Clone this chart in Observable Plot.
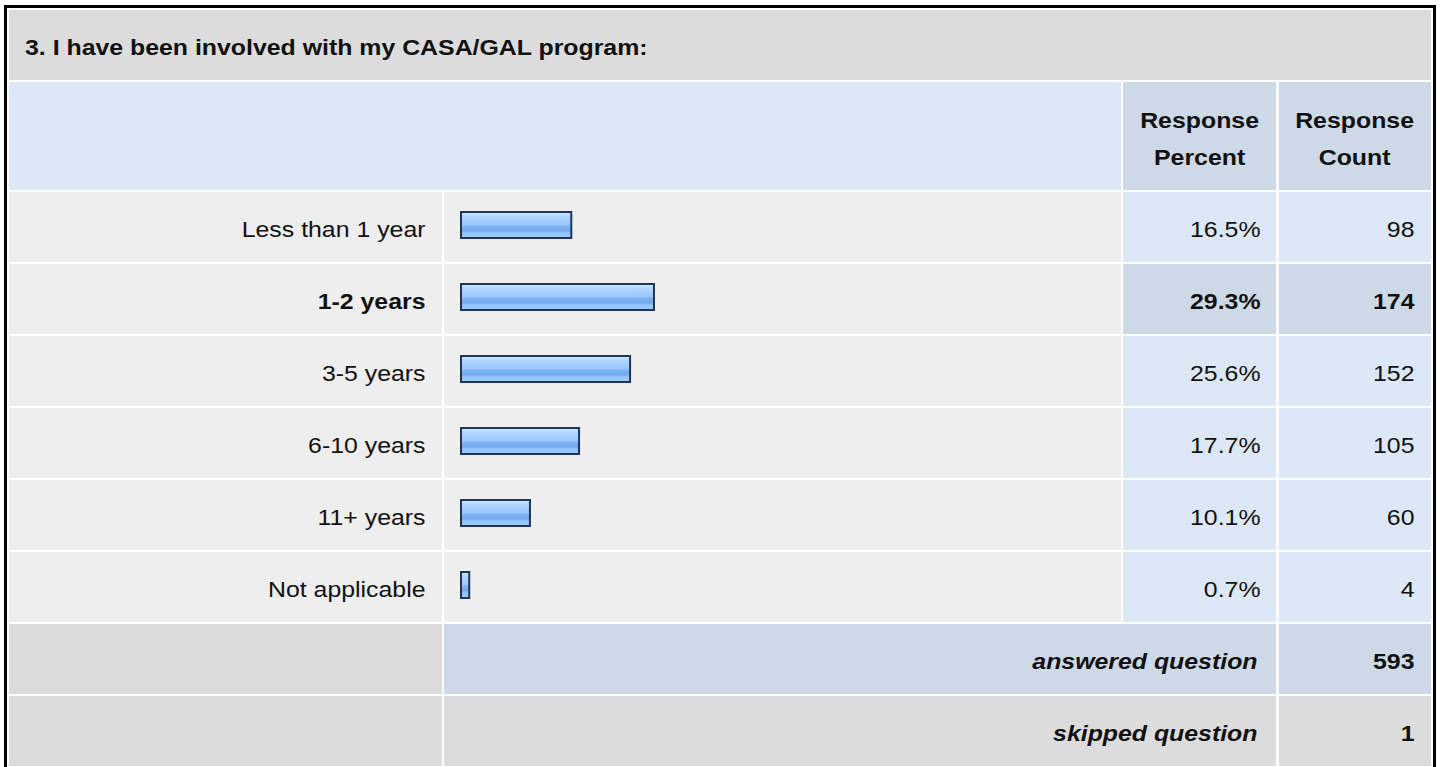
<!DOCTYPE html>
<html>
<head>
<meta charset="utf-8">
<script src="https://cdn.jsdelivr.net/npm/d3@7"></script>
<script src="https://cdn.jsdelivr.net/npm/@observablehq/plot@0.6"></script>
<style>
  body { margin: 0; background: #fff; font-family: "Liberation Sans", Arial, sans-serif; color: #000; }
  #wrap { position: relative; width: 1440px; height: 767px; overflow: hidden; }
  #head { position: relative; height: 190px; }
  .cell { position: absolute; }
  .hdr { font-weight: bold; font-size: 22px; line-height: 37px; text-align: center; color: #111; }
  .sx { display: inline-block; transform: scaleX(1.13); white-space: nowrap; }
  #frame { position: absolute; left: 4px; top: 5px; width: 1432px; height: 800px; border: 3px solid #000; border-bottom: none; box-sizing: border-box; pointer-events: none; }
  #chart svg { display: block; }
</style>
</head>
<body>
<div id="wrap">
  <div id="head">
    <div class="cell" style="left:9px;top:10px;width:1422px;height:70px;background:#dcdcdc"></div>
    <div class="cell" style="left:25px;top:13px;line-height:70px;font-weight:bold;font-size:22px;white-space:nowrap;color:#111"><span class="sx" id="title" style="transform-origin:left center"></span></div>
    <div class="cell" style="left:9px;top:82px;width:1112px;height:108px;background:#dde8f6"></div>
    <div class="cell" style="left:1123px;top:82px;width:153px;height:108px;background:#cdd9e6"></div>
    <div class="cell" style="left:1279px;top:82px;width:152px;height:108px;background:#cdd9e6"></div>
    <div class="cell hdr" style="left:1123px;top:102px;width:153px"><span class="sx" id="hdrPct" style="transform-origin:center"></span></div>
    <div class="cell hdr" style="left:1279px;top:102px;width:152px"><span class="sx" id="hdrCount" style="transform-origin:center"></span></div>
  </div>
  <div id="chart"></div>
  <div id="frame"></div>
</div>
<script>
// ---- data ----
const title = "3. I have been involved with my CASA/GAL program:";
const headerPercent = ["Response", "Percent"];
const headerCount = ["Response", "Count"];
const categories = ["Less than 1 year", "1-2 years", "3-5 years", "6-10 years", "11+ years", "Not applicable"];
const percents = [16.5, 29.3, 25.6, 17.7, 10.1, 0.7];
const counts = [98, 174, 152, 105, 60, 4];
const summaryLabels = ["answered question", "skipped question"];
const summaryValues = [593, 1];

// ---- header (HTML above the SVG) ----
document.getElementById("title").textContent = title;
document.getElementById("hdrPct").innerHTML = headerPercent.join("<br>");
document.getElementById("hdrCount").innerHTML = headerCount.join("<br>");

// ---- layout (page pixels) ----
const COL = { label: [9, 442], bar: [444, 1121], pct: [1123, 1276], count: [1279, 1431] };
const xRange = [464.7, 1110.7];
const xs = d3.scaleLinear([0, 100], xRange);
const X = (px) => xs.invert(px);

const rows = categories.map((c, i) => ({ cat: c, pct: percents[i], count: counts[i] }));
const maxPct = d3.max(percents);
rows.forEach(r => r.hi = r.pct === maxPct);
const summary = summaryLabels.map((s, i) => ({ cat: s, count: summaryValues[i] }));
const rowKeys = [...categories, ...summaryLabels];

const GRAY = "#eeeeee", DGRAY = "#dcdcdc", BLUE = "#dde8f6", DBLUE = "#cdd9e6";
const cells = [];
for (const r of rows) {
  cells.push({ row: r.cat, x0: COL.label[0], x1: COL.label[1], fill: GRAY });
  cells.push({ row: r.cat, x0: COL.bar[0], x1: COL.bar[1], fill: GRAY });
  cells.push({ row: r.cat, x0: COL.pct[0], x1: COL.pct[1], fill: r.hi ? DBLUE : BLUE });
  cells.push({ row: r.cat, x0: COL.count[0], x1: COL.count[1], fill: r.hi ? DBLUE : BLUE });
}
summary.forEach((s, i) => {
  const f = i === 0 ? DBLUE : DGRAY;
  cells.push({ row: s.cat, x0: COL.label[0], x1: COL.label[1], fill: DGRAY });
  cells.push({ row: s.cat, x0: COL.bar[0], x1: COL.pct[1], fill: f });
  cells.push({ row: s.cat, x0: COL.count[0], x1: COL.count[1], fill: f });
});

const font = "'Liberation Sans', Arial, sans-serif";
const FS = 22;
const txt = (data, opts) => Plot.text(data, { y: "cat", fontSize: FS, fontFamily: font, fill: "#111", textAnchor: "end", dy: 2, ...opts });

const plot = Plot.plot({
  width: 1440,
  height: 577,
  margin: 0,
  style: { fontFamily: font, background: "transparent", overflow: "visible" },
  x: { domain: [0, 100], range: xRange, axis: null },
  y: { type: "band", domain: rowKeys, range: [2, 576], paddingInner: 2 / 72, paddingOuter: 0, round: false, axis: null },
  color: { type: "identity" },
  marks: [
    Plot.barX(cells, { x1: d => X(d.x0), x2: d => X(d.x1), y: "row", fill: d => d.fill }),
    Plot.barX(rows, { x1: () => 0, x2: "pct", y: "cat", fill: "url(#barGrad)", stroke: "#1e3759", strokeWidth: 2, insetTop: 20, insetBottom: 24, insetLeft: -3.7 }),
    txt(rows.filter(r => !r.hi), { x: () => X(425), text: "cat" }),
    txt(rows.filter(r => r.hi), { x: () => X(425), text: "cat", fontWeight: "bold" }),
    txt(rows.filter(r => !r.hi), { x: () => X(1260), text: d => d.pct.toFixed(1) + "%" }),
    txt(rows.filter(r => r.hi), { x: () => X(1260), text: d => d.pct.toFixed(1) + "%", fontWeight: "bold" }),
    txt(rows.filter(r => !r.hi), { x: () => X(1414), text: d => String(d.count) }),
    txt(rows.filter(r => r.hi), { x: () => X(1414), text: d => String(d.count), fontWeight: "bold" }),
    txt(summary, { x: () => X(1257), text: "cat", fontWeight: "bold", fontStyle: "italic" }),
    txt(summary, { x: () => X(1414), text: d => String(d.count), fontWeight: "bold" })
  ]
});

// gradient for the bars
const svg = d3.select(plot);
const grad = svg.insert("defs", ":first-child").append("linearGradient")
  .attr("id", "barGrad").attr("x1", 0).attr("y1", 0).attr("x2", 0).attr("y2", 1);
[[0, "#d2e7ff"], [0.14, "#b8daff"], [0.3, "#a4cfff"], [0.5, "#9ac9ff"], [0.54, "#7cb2f2"], [0.72, "#72a9ee"], [0.78, "#8fc1fb"], [1, "#a0ceff"]]
  .forEach(([o, c]) => grad.append("stop").attr("offset", o).attr("stop-color", c));

// slightly wide glyphs, as in the reference (horizontal stretch about each text's anchor)
const K = 1.13;
plot.querySelectorAll("text").forEach(el => {
  let t = el.getAttribute("transform") || "";
  const xa = el.getAttribute("x");
  if (xa != null && !isNaN(+xa)) { el.removeAttribute("x"); t += ` translate(${+xa},0)`; }
  el.setAttribute("transform", `${t} scale(${K},1)`);
});

document.getElementById("chart").appendChild(plot);
</script>
</body>
</html>
